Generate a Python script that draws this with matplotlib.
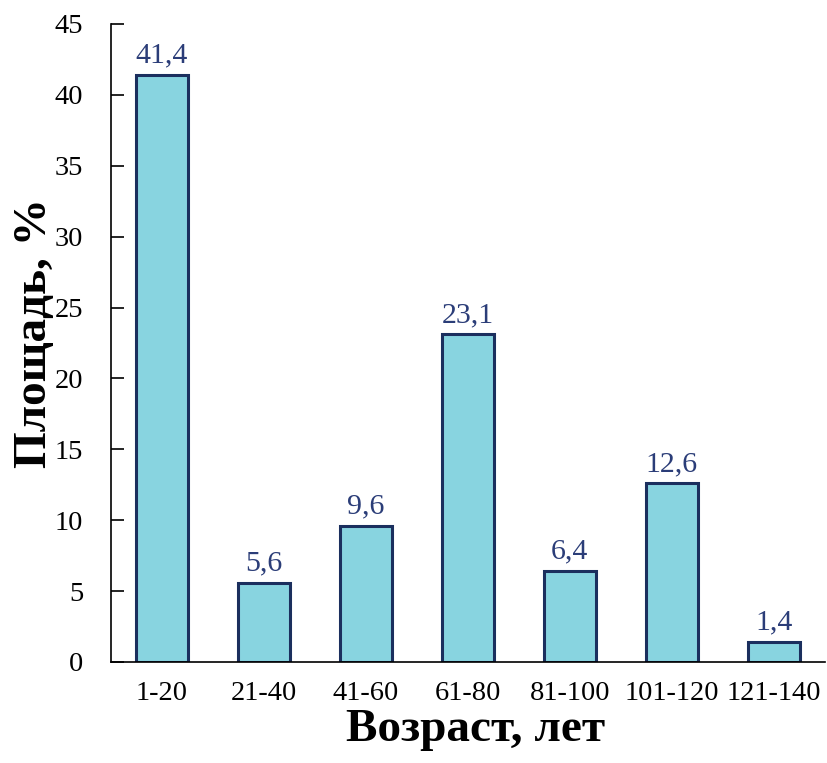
import matplotlib
matplotlib.use("Agg")
import matplotlib.pyplot as plt

categories = ["1-20", "21-40", "41-60", "61-80", "81-100", "101-120", "121-140"]
values = [41.4, 5.6, 9.6, 23.1, 6.4, 12.6, 1.4]
value_labels = ["41,4", "5,6", "9,6", "23,1", "6,4", "12,6", "1,4"]
y_ticks = [0, 5, 10, 15, 20, 25, 30, 35, 40, 45]

plt.rcParams['font.family'] = ['Liberation Serif', 'DejaVu Serif']

fig = plt.figure(figsize=(8.28, 7.63), dpi=100)
ax = fig.add_axes([0.134, 0.1324, 0.862, 0.8362])

x = range(len(categories))
bars = ax.bar(x, values, width=0.51, color="#88D4E0", edgecolor="#1B2F5E", linewidth=2.2)
for xi, v, lab in zip(x, values, value_labels):
    ax.text(xi, v + 0.45, lab, ha="center", va="bottom", fontsize=21.5, color="#2B3D78")

ax.set_xlim(-0.5, len(categories) - 0.5)
ax.set_ylim(0, 45)
ax.set_yticks(y_ticks)
ax.set_yticklabels([str(t) for t in y_ticks], fontsize=20.5)
ax.set_xticks(list(x))
ax.set_xticklabels(categories, fontsize=20.5)
ax.tick_params(axis="y", direction="in", length=9, width=1.2, pad=20)
ax.tick_params(axis="x", length=0, pad=14)
for s in ["top", "right"]:
    ax.spines[s].set_visible(False)
ax.spines["left"].set_linewidth(1.2)
ax.spines["bottom"].set_linewidth(1.2)

ax.set_xlabel("Возраст, лет", fontsize=34, fontweight="bold")
ax.set_ylabel("Площадь, %", fontsize=34, fontweight="bold")
ax.xaxis.set_label_coords(0.511, -0.074)
ax.yaxis.set_label_coords(-0.077, 0.516)

fig.savefig("out.png", dpi=100)
